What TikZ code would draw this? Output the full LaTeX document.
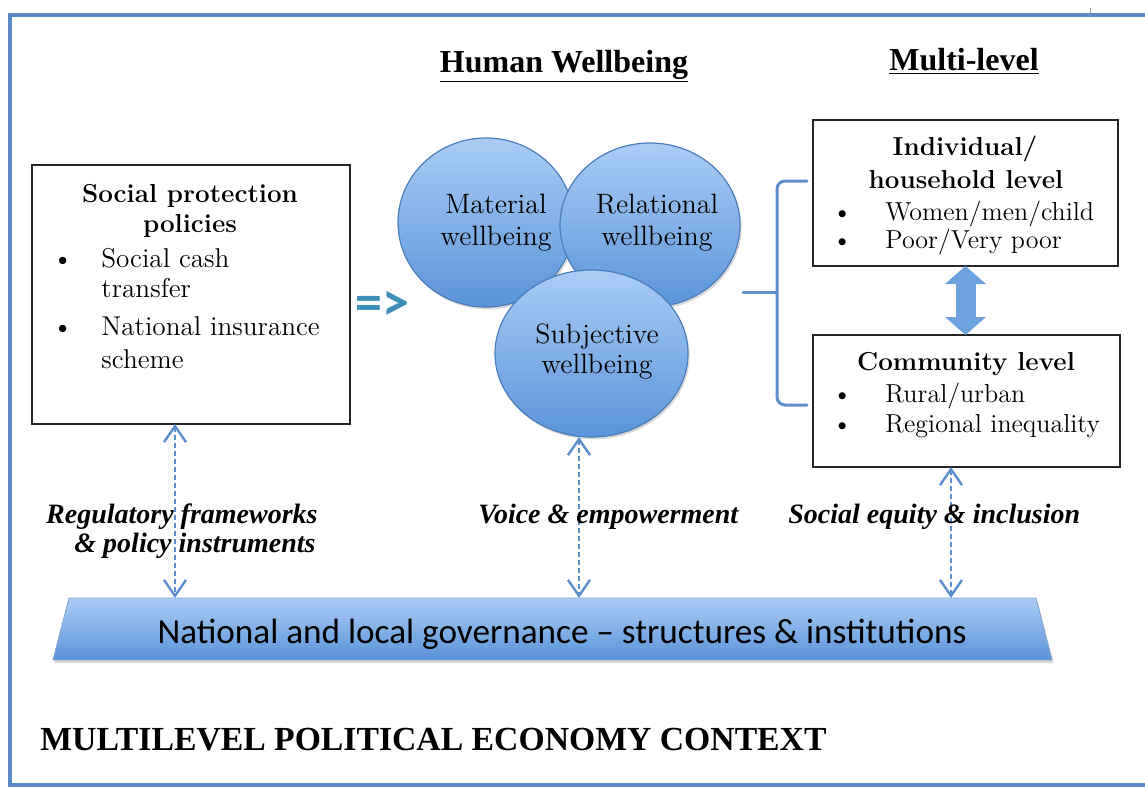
\documentclass[tikz,border=0pt]{standalone}
\usepackage{fontspec}
\usetikzlibrary{arrows.meta,shapes.geometric,shadows}
\newfontfamily\timesfont[Ligatures=TeX]{Liberation Serif}
\newfontfamily\calibrifont[Ligatures=TeX]{Carlito}
\definecolor{frameblue}{HTML}{5B8AC6}
\definecolor{bubbletop}{HTML}{AACDF6}
\definecolor{bubblebot}{HTML}{5A94D8}
\definecolor{bubbleedge}{HTML}{4A7EBB}
\definecolor{linkblue}{HTML}{5B8FCB}
\definecolor{implyteal}{HTML}{3B8FB8}
\definecolor{blockblue}{HTML}{6CA2DE}
\newcommand{\itemdot}[1]{\makebox[#1][l]{\textbullet}}

\begin{document}
\begin{tikzpicture}[x=0.5pt,y=-0.5pt,
  panel/.style={draw=black!85,line width=0.8pt,inner sep=0pt,outer sep=0pt},
  bubble/.style={ellipse,draw=bubbleedge,line width=0.6pt,top color=bubbletop,bottom color=bubblebot,
    inner sep=0pt,outer sep=0pt,drop shadow={shadow xshift=0.8pt,shadow yshift=-1.2pt,opacity=0.3}},
  govbar/.style={draw=bubbleedge!70,line width=0.4pt,top color=bubbletop,bottom color=bubblebot,
    drop shadow={shadow xshift=0.8pt,shadow yshift=-1.5pt,opacity=0.3}},
  boxhead/.style={font=\fontsize{13}{15}\selectfont\bfseries,anchor=base,inner sep=0pt},
  boxitem/.style={font=\fontsize{13}{15}\selectfont,anchor=base west,inner sep=0pt},
  bubbletext/.style={font=\fontsize{14}{16}\selectfont,anchor=base,inner sep=0pt},
  heading/.style={font=\timesfont\fontsize{16}{18}\selectfont\bfseries,anchor=base,inner sep=0pt},
  channel/.style={font=\timesfont\fontsize{14}{16}\selectfont\bfseries\itshape,inner sep=0pt},
  link/.style={draw=linkblue,line width=0.6pt,dash pattern=on 2.5pt off 1.5pt,
    >={Straight Barb[length=8pt,width=11pt,line width=1.2pt]},<->},
  updown/.style={draw=blockblue,line width=10pt,>={Triangle[length=9pt,width=20pt]},<->},
  frame/.style={draw=frameblue,line width=2pt},
  brace/.style={draw=linkblue,line width=1.5pt,line cap=round}]
  \useasboundingbox (0,0) rectangle (1145,787);

  % outer frame
  \draw[frame] (1145,15) -- (10,15) -- (10,787);
  \draw[frame] (10,785) -- (1145,785);
  \draw[black!40,line width=0.4pt] (1090,8) -- (1090,15);

  % headings
  \node[heading] (hwhead) at (564,72) {\underline{Human Wellbeing}};
  \node[heading] (mlhead) at (964,70) {\underline{Multi-level}};

  % social protection box
  \node[panel,minimum width=159pt,minimum height=129.5pt] (policy) at (191,294.5) {};
  \node[boxhead] (policyt1) at (190,202) {Social protection};
  \node[boxhead] (policyt2) at (190,232) {policies};
  \node[boxitem,font=\fontsize{13.6}{15}\selectfont] (cash1) at (52,267) {\itemdot{24.5pt}Social cash};
  \node[boxitem,font=\fontsize{13.6}{15}\selectfont] (cash2) at (101,297) {transfer};
  \node[boxitem,font=\fontsize{13.6}{15}\selectfont] (nis1) at (52,335) {\itemdot{24.5pt}National insurance};
  \node[boxitem,font=\fontsize{13.6}{15}\selectfont] (nis2) at (101,368) {scheme};

  \node[font=\calibrifont\bfseries\fontsize{27}{28}\selectfont,text=implyteal,inner sep=0pt] (implies) at (382,306) {=>};

  % wellbeing bubbles
  \node[bubble,minimum width=88pt,minimum height=84.5pt] (material) at (486,222.5) {};
  \node[bubble,minimum width=90pt,minimum height=82pt] (relational) at (650,225) {};
  \node[bubble,minimum width=96.5pt,minimum height=83.5pt] (subjective) at (591.5,353.5) {};
  \node[bubbletext] (matt1) at (496,213) {Material};
  \node[bubbletext] (matt2) at (496,245) {wellbeing};
  \node[bubbletext] (relt1) at (657,213) {Relational};
  \node[bubbletext] (relt2) at (657,245) {wellbeing};
  \node[bubbletext] (subt1) at (597,343) {Subjective};
  \node[bubbletext] (subt2) at (597,373) {wellbeing};

  % bracket
  \draw[brace,rounded corners=4pt] (807,181) -- (777,181) -- (777,405) -- (807,405);
  \draw[brace] (777,292) -- (743,292);

  % levels
  \node[panel,minimum width=152.5pt,minimum height=73pt] (indiv) at (965.5,193) {};
  \node[boxhead] (indivt1) at (965,155) {Individual/};
  \node[boxhead] (indivt2) at (966,188) {household level};
  \node[boxitem] (wmc) at (832,220) {\itemdot{26.5pt}Women/men/child};
  \node[boxitem] (poor) at (832,248) {\itemdot{26.5pt}Poor/Very poor};

  \node[panel,minimum width=153.5pt,minimum height=66pt] (comm) at (966.5,401) {};
  \node[boxhead] (commt) at (966,370) {Community level};
  \node[boxitem] (rural) at (832,402) {\itemdot{26.5pt}Rural/urban};
  \node[boxitem] (region) at (832,432) {\itemdot{26.5pt}Regional inequality};

  \draw[updown] (indiv.south) -- (indiv.south |- comm.north);

  % governance
  \path[govbar] (69,598) -- (1036,598) -- (1052,660) -- (53,660) -- cycle;
  \node[font=\calibrifont\fontsize{17.6}{19}\selectfont,anchor=base,inner sep=0pt] (govtext) at (562,643)
    {National and local governance \textendash\ structures \& institutions};
  \coordinate (govL) at (175,598);
  \coordinate (govM) at (579,598);
  \coordinate (govR) at (951,598);
  \draw[link] (policy.south -| govL) -- (govL);
  \draw[link] (subjective.south -| govM) -- (govM);
  \draw[link] (comm.south -| govR) -- (govR);

  \node[channel,anchor=base east] (reg1) at (318,523) {Regulatory frameworks};
  \node[channel,anchor=base east] (reg2) at (316,552) {\& policy instruments};
  \node[channel,anchor=base west] (voice) at (478,523) {Voice \& empowerment};
  \node[channel,anchor=base west] (equity) at (788,523) {Social equity \& inclusion};

  \node[font=\timesfont\fontsize{16.85}{19}\selectfont\bfseries,anchor=base west,inner sep=0pt] (context) at (40,750)
    {MULTILEVEL POLITICAL ECONOMY CONTEXT};
\end{tikzpicture}
\end{document}
